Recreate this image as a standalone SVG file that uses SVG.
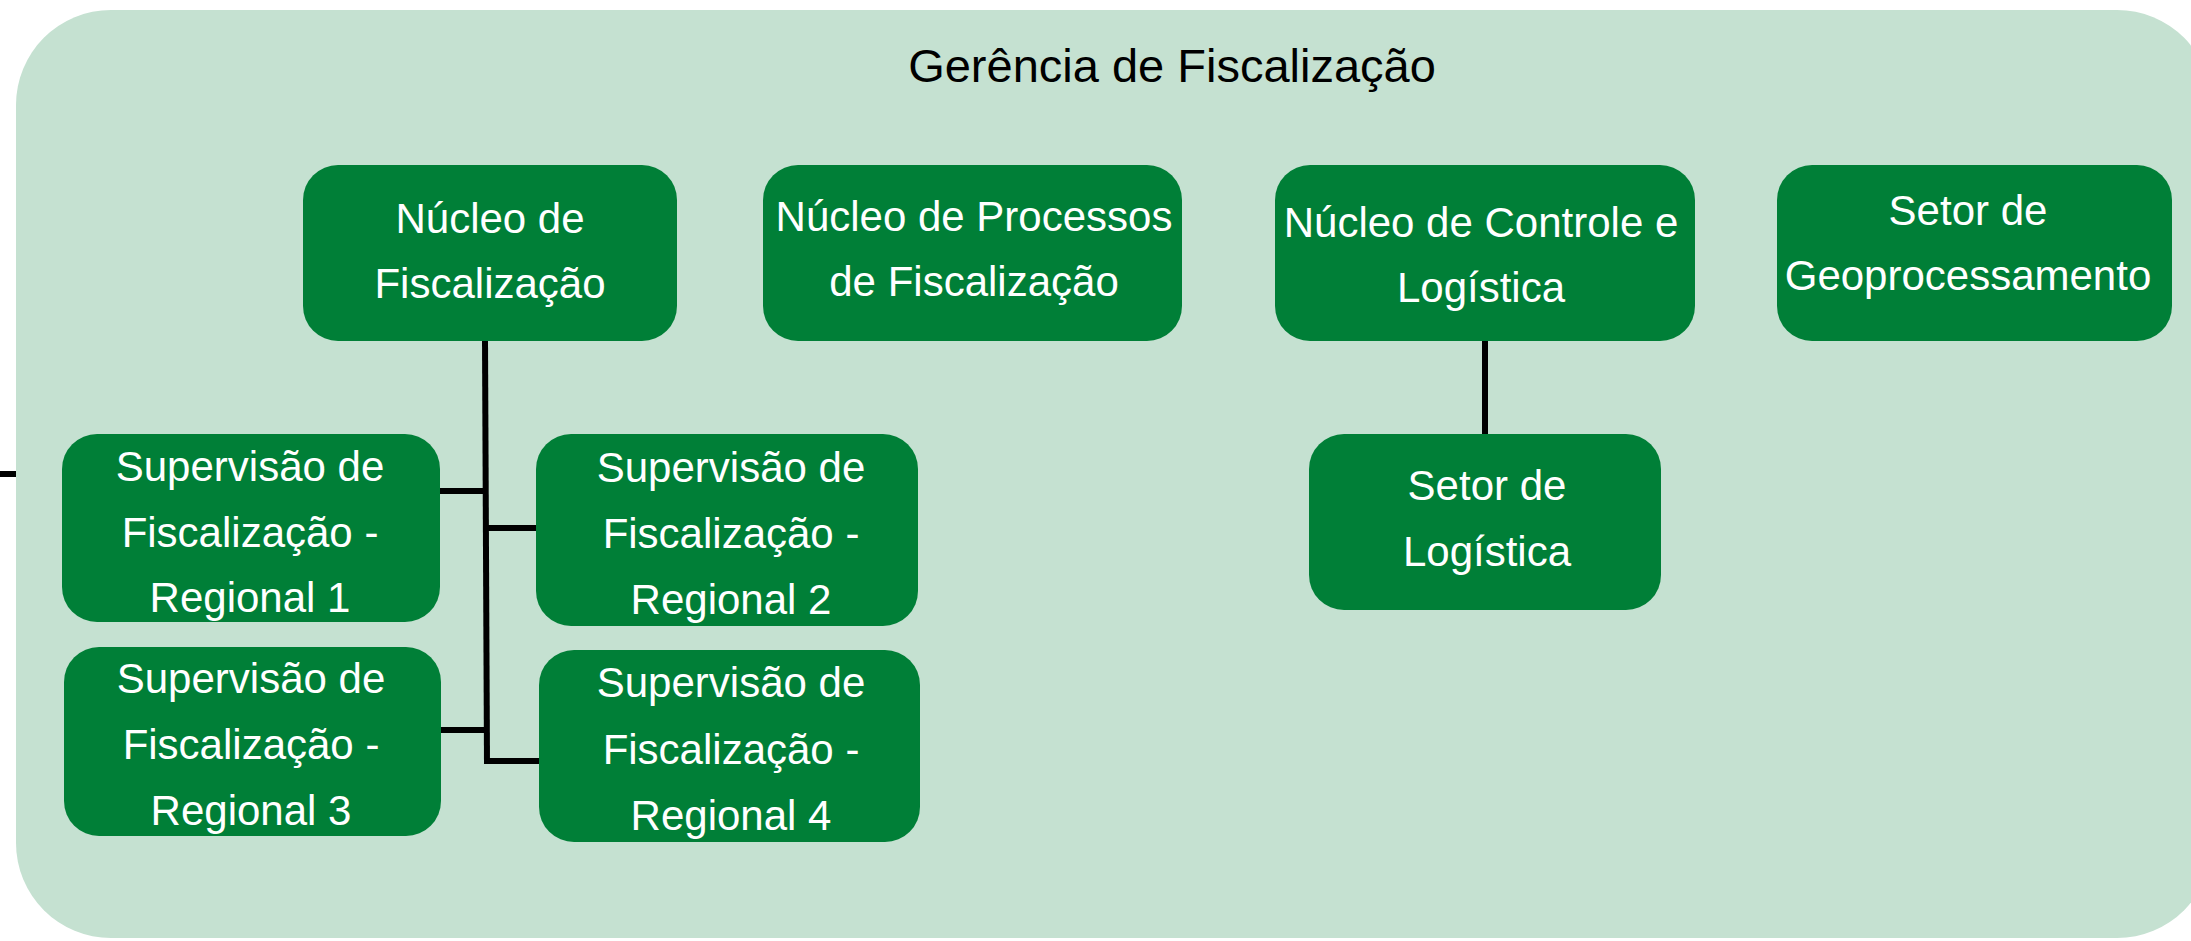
<svg xmlns="http://www.w3.org/2000/svg" width="2191" height="941" viewBox="0 0 2191 941">
<style>
.bg{fill:#C5E1D1}
.node{fill:#007F37}
.t{font-family:"Liberation Sans",Arial,sans-serif;font-size:42px;fill:#FFFFFF;text-anchor:middle}
.title{font-family:"Liberation Sans",Arial,sans-serif;font-size:47px;fill:#000000;text-anchor:middle}
.c{stroke:#000000;stroke-width:6;fill:none}
</style>
<rect width="2191" height="941" fill="#FFFFFF"/>
<g id="container">
<rect class="bg" x="16" y="10" width="2196" height="928" rx="95" ry="95"/>
<text class="title" x="1172" y="82">Gerência de Fiscalização</text>
</g>
<g id="connectors">
<line class="c" x1="0" y1="474" x2="16" y2="474"/>
<polyline class="c" points="485,340 487,764"/>
<line class="c" x1="440" y1="491" x2="486" y2="491"/>
<line class="c" x1="486" y1="528" x2="537" y2="528"/>
<line class="c" x1="441" y1="730" x2="487" y2="730"/>
<line class="c" x1="484" y1="761" x2="540" y2="761"/>
<line class="c" x1="1485" y1="340" x2="1485" y2="435"/>
</g>
<g id="nucleo-fiscalizacao">
<rect class="node" x="303" y="165" width="374" height="176" rx="35"/>
<text class="t" x="490" y="233">Núcleo de</text>
<text class="t" x="490" y="298">Fiscalização</text>
</g>
<g id="nucleo-processos">
<rect class="node" x="763" y="165" width="419" height="176" rx="35"/>
<text class="t" x="974" y="231">Núcleo de Processos</text>
<text class="t" x="974" y="296">de Fiscalização</text>
</g>
<g id="nucleo-controle">
<rect class="node" x="1275" y="165" width="420" height="176" rx="35"/>
<text class="t" x="1481" y="237">Núcleo de Controle e</text>
<text class="t" x="1481" y="302">Logística</text>
</g>
<g id="setor-geo">
<rect class="node" x="1777" y="165" width="395" height="176" rx="35"/>
<text class="t" x="1968" y="225">Setor de</text>
<text class="t" x="1968" y="290">Geoprocessamento</text>
</g>
<g id="setor-logistica">
<rect class="node" x="1309" y="434" width="352" height="176" rx="35"/>
<text class="t" x="1487" y="500">Setor de</text>
<text class="t" x="1487" y="566">Logística</text>
</g>
<g id="regional-1">
<rect class="node" x="62" y="434" width="378" height="188" rx="35"/>
<text class="t" x="250" y="481">Supervisão de</text>
<text class="t" x="250" y="547">Fiscalização -</text>
<text class="t" x="250" y="612">Regional 1</text>
</g>
<g id="regional-2">
<rect class="node" x="536" y="434" width="382" height="192" rx="35"/>
<text class="t" x="731" y="482">Supervisão de</text>
<text class="t" x="731" y="548">Fiscalização -</text>
<text class="t" x="731" y="614">Regional 2</text>
</g>
<g id="regional-3">
<rect class="node" x="64" y="647" width="377" height="189" rx="35"/>
<text class="t" x="251" y="693">Supervisão de</text>
<text class="t" x="251" y="759">Fiscalização -</text>
<text class="t" x="251" y="825">Regional 3</text>
</g>
<g id="regional-4">
<rect class="node" x="539" y="650" width="381" height="192" rx="35"/>
<text class="t" x="731" y="697">Supervisão de</text>
<text class="t" x="731" y="764">Fiscalização -</text>
<text class="t" x="731" y="830">Regional 4</text>
</g>
</svg>
